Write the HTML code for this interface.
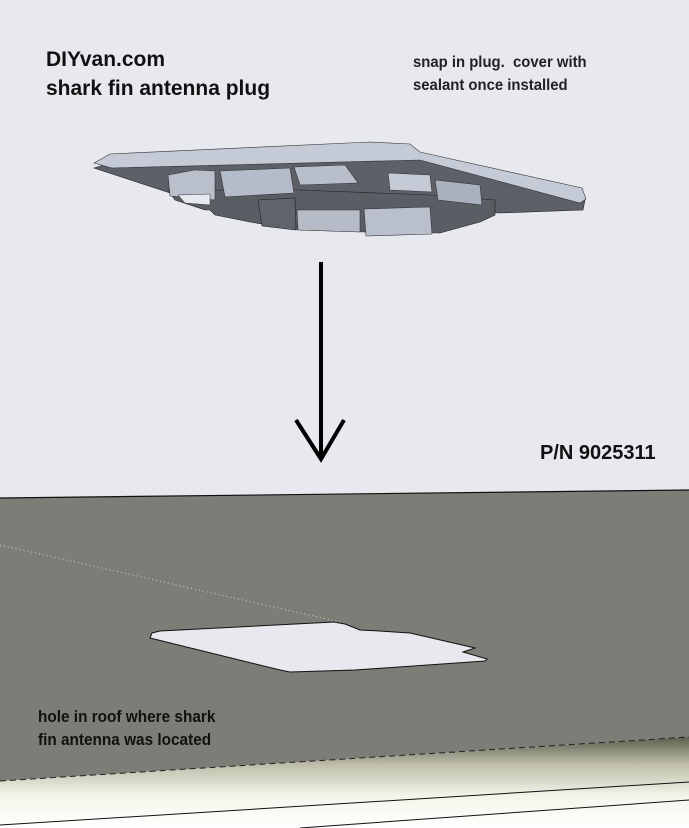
<!DOCTYPE html>
<html><head><meta charset="utf-8"><style>
html,body{margin:0;padding:0}
body{width:689px;height:828px;overflow:hidden;background:#e8e9ee;position:relative;font-family:"Liberation Sans",sans-serif}
.t{position:absolute;color:#111;white-space:nowrap}
</style></head><body>
<svg width="689" height="828" style="position:absolute;left:0;top:0">
<defs>
<linearGradient id="sh" x1="0" y1="0" x2="0" y2="1">
<stop offset="0" stop-color="#5e5e4e"/><stop offset="0.3" stop-color="#bdbdaa"/><stop offset="0.65" stop-color="#f4f4ea"/><stop offset="1" stop-color="#ffffff"/>
</linearGradient>
</defs>
<polygon points="0,498 689,490 689,737 0,781" fill="#7c7d76"/>
<polyline points="0,498 689,490" stroke="#111" stroke-width="1.2" fill="none"/>
<polygon points="0,781 689,737 689,828 0,828" fill="url(#sh)"/>
<polyline points="0,781 689,737" stroke="#222" stroke-width="1" stroke-dasharray="6,4" fill="none"/>
<polyline points="0,825 689,782" stroke="#111" stroke-width="1" fill="none"/>
<polyline points="300,828 689,800" stroke="#111" stroke-width="1" fill="none"/>
<polyline points="0,545 340,622" stroke="#cfd0c8" stroke-width="1" stroke-dasharray="1,3" fill="none"/>
<polygon points="152,633 160,631 334,622 345,624 360,630 380,631 410,633 475,648 463,652 470,654 487,659 485,661 355,670 290,672 280,670 150,638" fill="#e8e9ee" stroke="#111" stroke-width="1"/>
<line x1="321" y1="262" x2="321" y2="459" stroke="#000" stroke-width="4"/>
<polyline points="296,420 321,459 344,420" stroke="#000" stroke-width="4" fill="none"/>
<polygon points="94,168 120,160 420,158 585,200 583,210 500,213 170,193" fill="#5d6068" stroke="#222" stroke-width="0.6"/>
<polygon points="94,163 110,154 370,142 410,144 420,152 582,188 586,199 580,203 420,160 112,168" fill="#c4cad6" stroke="#333" stroke-width="0.6"/>
<polygon points="168,190 175,200 205,210 210,210 215,215 250,222 300,230 365,232 440,233 480,222 495,215 495,200 430,195 300,190 200,190" fill="#595d64" stroke="#222" stroke-width="0.6"/>
<polygon points="168,175 195,170 215,171 215,200 195,198 170,196" fill="#b9c0cc" stroke="#333" stroke-width="0.6"/>
<polygon points="220,171 290,168 294,193 225,197" fill="#b4bcc9" stroke="#333" stroke-width="0.6"/>
<polygon points="294,167 345,165 358,183 300,185" fill="#b8bfcb" stroke="#333" stroke-width="0.6"/>
<polygon points="388,173 430,175 432,192 390,190" fill="#c5cbd6" stroke="#333" stroke-width="0.6"/>
<polygon points="435,180 480,185 482,205 438,200" fill="#a9b1be" stroke="#333" stroke-width="0.6"/>
<polygon points="258,200 295,198 296,230 262,226" fill="#5e636c" stroke="#222" stroke-width="0.6"/>
<polygon points="297,210 360,210 360,232 298,230" fill="#b5bcc8" stroke="#333" stroke-width="0.6"/>
<polygon points="364,209 430,207 432,234 366,236" fill="#b9c0cc" stroke="#333" stroke-width="0.6"/>
<polygon points="178,195 210,194 210,205 185,203" fill="#e8e9ee" stroke="#333" stroke-width="0.5"/>
</svg>
<div class="t" style="left:46px;top:45px;font-size:21px;font-weight:bold;line-height:29px">DIYvan.com<br>shark fin antenna plug</div>
<div class="t" style="left:413px;top:51px;font-size:16px;line-height:23px;font-weight:bold;color:#222;transform:scaleX(0.93);transform-origin:0 0">snap in plug.&nbsp; cover with<br>sealant once installed</div>
<div class="t" style="left:540px;top:442px;font-size:20px;font-weight:bold">P/N 9025311</div>
<div class="t" style="left:38px;top:706px;font-size:16.5px;line-height:23px;font-weight:bold;color:#111;transform:scaleX(0.93);transform-origin:0 0">hole in roof where shark<br>fin antenna was located</div>
</body></html>
